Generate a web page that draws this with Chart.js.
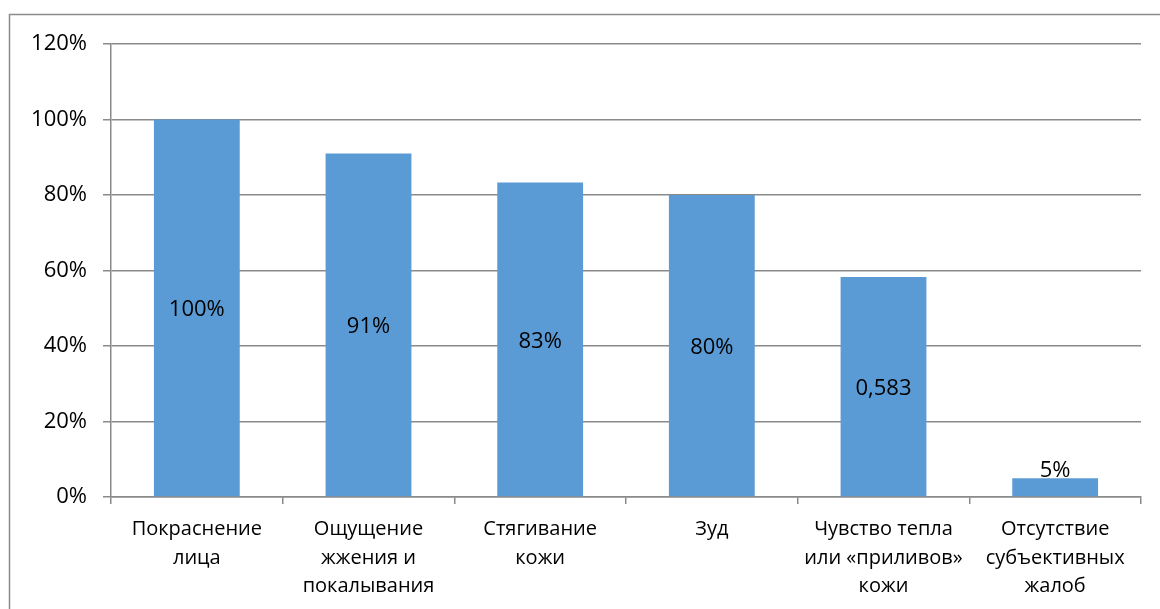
<!DOCTYPE html>
<html>
<head>
<meta charset="utf-8">
<script src="https://cdn.jsdelivr.net/npm/chart.js@4"></script>
<style>
  html, body { margin: 0; padding: 0; background: #fff; }
  #wrap { width: 1160px; height: 609px; position: relative; }
</style>
</head>
<body>
<div id="wrap"><canvas id="chart" width="1160" height="609"></canvas></div>
<script>
// данные диаграммы
const categories = [
    ['Покраснение', 'лица'],
    ['Ощущение', 'жжения и', 'покалывания'],
    ['Стягивание', 'кожи'],
    ['Зуд'],
    ['Чувство тепла', 'или «приливов»', 'кожи'],
    ['Отсутствие', 'субъективных', 'жалоб']
];
const values = [1.0, 0.91, 0.833, 0.80, 0.583, 0.05];
const valueLabels = ['100%', '91%', '83%', '80%', '0,583', '5%'];
const yTickLabels = ['0%', '20%', '40%', '60%', '80%', '100%', '120%'];

const FONT = '"Open Sans", "Liberation Sans", sans-serif';
const GRID = '#8a8a8a';

// рамка вокруг диаграммы
const framePlugin = {
    id: 'frame',
    beforeDraw(chart) {
        const ctx = chart.ctx;
        ctx.save();
        ctx.strokeStyle = '#8c8c8c';
        ctx.lineWidth = 1.5;
        ctx.strokeRect(9.5, 14.5, 1300, 700);
        ctx.restore();
    }
};

// подписи значений (центр столбца, у маленького — над ним)
const valueLabelPlugin = {
    id: 'valueLabels',
    afterDatasetsDraw(chart) {
        const ctx = chart.ctx;
        const meta = chart.getDatasetMeta(0);
        ctx.save();
        ctx.font = '22px ' + FONT;
        ctx.fillStyle = '#000';
        ctx.textAlign = 'center';
        meta.data.forEach((bar, i) => {
            const h = bar.base - bar.y;
            if (h > 40) {
                ctx.textBaseline = 'middle';
                ctx.fillText(valueLabels[i], bar.x, (bar.y + bar.base) / 2 + 2);
            } else {
                ctx.textBaseline = 'alphabetic';
                ctx.fillText(valueLabels[i], bar.x, bar.y - 1);
            }
        });
        ctx.restore();
    }
};

const canvas = document.getElementById('chart');
new Chart(canvas.getContext('2d'), {
    type: 'bar',
    data: {
        labels: categories,
        datasets: [{
            data: values,
            backgroundColor: '#5B9BD5',
            borderWidth: 0,
            categoryPercentage: 1.0,
            barPercentage: 0.5
        }]
    },
    options: {
        responsive: false,
        animation: false,
        layout: { padding: { left: 0, top: 44, right: 19, bottom: 0 } },
        plugins: {
            legend: { display: false },
            tooltip: { enabled: false }
        },
        scales: {
            y: {
                min: 0,
                max: 1.2,
                afterFit(scale) { scale.width = 111; },
                ticks: {
                    stepSize: 0.2,
                    padding: 16,
                    color: '#000',
                    font: { family: FONT, size: 22 },
                    callback: (v) => yTickLabels[Math.round(v / 0.2)]
                },
                grid: { color: GRID, lineWidth: 1.5, tickLength: 8 },
                border: { color: GRID, width: 1.5 }
            },
            x: {
                afterFit(scale) { scale.height = 112; },
                ticks: {
                    padding: 11,
                    color: '#000',
                    maxRotation: 0,
                    autoSkip: false,
                    font: { family: FONT, size: 20, lineHeight: 1.43 }
                },
                grid: {
                    offset: true,
                    drawOnChartArea: false,
                    color: GRID,
                    lineWidth: 1.5,
                    tickLength: 7
                },
                border: { color: GRID, width: 1.5 }
            }
        }
    },
    plugins: [framePlugin, valueLabelPlugin]
});
</script>
</body>
</html>
